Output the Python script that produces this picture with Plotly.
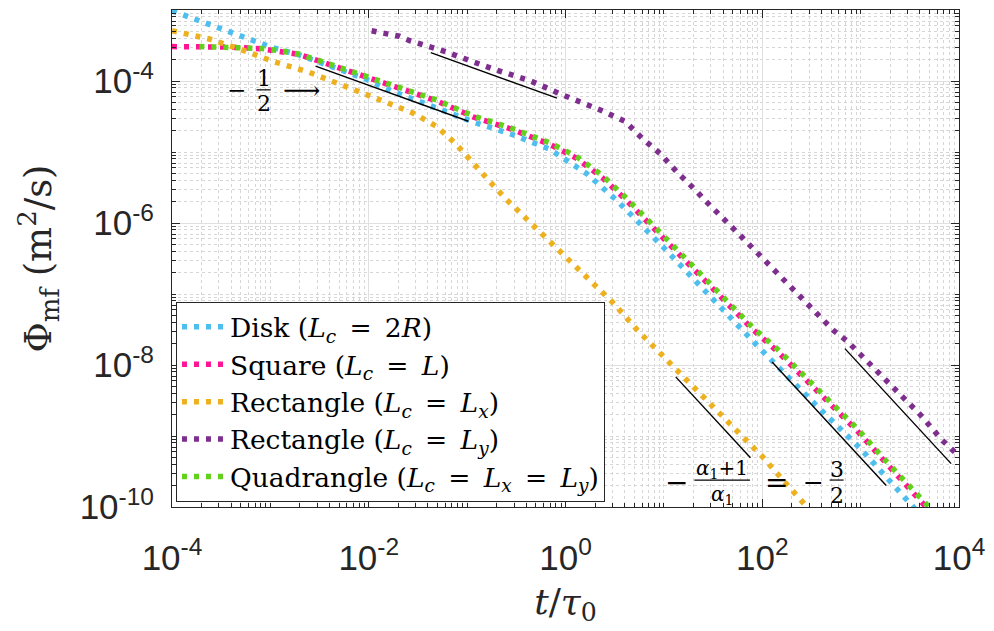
import plotly.graph_objects as go

# ---- series: t/tau0 and flux Phi_mf (m^2/s) ----
t_disk = [1.0e-4, 1.9e-4, 4.17e-4, 7.76e-4, 1.05e-3, 1.95e-3, 3.16e-3, 9.3e-3, 1.7e-2,
          5.1e-2, 0.117, 0.282, 0.687, 1.66, 3.37, 10.0, 31.6, 100.0, 316.0, 1000.0, 3548.0]
phi_disk = [9.77e-4, 7.0e-4, 4.79e-4, 3.47e-4, 2.95e-4, 2.34e-4, 1.82e-4, 1.07e-4, 7.24e-5,
            4.07e-5, 2.63e-5, 1.78e-5, 1.10e-5, 4.9e-6, 2.04e-6, 4.47e-7, 8.3e-8, 1.58e-8,
            3.16e-9, 6.6e-10, 9.5e-11]

t_square = [1.0e-4, 2.0e-4, 4.0e-4, 7.9e-4, 1.26e-3, 1.95e-3, 3.16e-3, 9.3e-3, 2.04e-2,
            4.9e-2, 0.117, 0.284, 0.687, 1.27, 2.36, 4.02, 10.0, 31.6, 81.3, 141.0, 263.0,
            490.0, 912.0, 1698.0, 3090.0, 4786.0]
phi_square = [3.05e-4, 3.05e-4, 3.0e-4, 2.85e-4, 2.63e-4, 2.37e-4, 1.9e-4, 1.15e-4, 7.9e-5,
              5.25e-5, 3.09e-5, 2.09e-5, 1.29e-5, 8.3e-6, 4.37e-6, 2.19e-6, 6.0e-7, 1.17e-7,
              3.1e-8, 1.58e-8, 6.8e-9, 2.82e-9, 1.2e-9, 4.6e-10, 1.9e-10, 9.5e-11]

t_rect_x = [1.0e-4, 2.4e-4, 4.9e-4, 1.05e-3, 2.5e-3, 5.9e-3, 1.38e-2, 2.8e-2, 4.9e-2, 7.6e-2,
            0.112, 0.174, 0.247, 0.5, 1.0, 1.78, 3.02, 5.37, 10.0, 15.8, 29.5, 55.0, 102.0,
            162.0, 269.0, 295.0]
phi_rect_x = [5.1e-4, 3.9e-4, 2.82e-4, 1.9e-4, 1.32e-4, 8.5e-5, 5.25e-5, 3.55e-5, 2.29e-5,
              1.32e-5, 7.1e-6, 3.7e-6, 2.19e-6, 8.5e-7, 3.4e-7, 1.58e-7, 7.6e-8, 3.1e-8,
              1.29e-8, 6.8e-9, 2.88e-9, 1.2e-9, 5.0e-10, 2.4e-10, 1.12e-10, 9.5e-11]

t_rect_y = [1.07e-2, 2.04e-2, 2.6e-2, 5.8e-2, 0.183, 0.443, 0.98, 2.17, 4.02, 5.97, 9.3,
            13.8, 21.4, 25.7, 63.0, 158.0, 525.0, 724.0, 1349.0, 2291.0, 3981.0, 6761.0,
            10000.0]
phi_rect_y = [5.1e-4, 4.27e-4, 3.7e-4, 2.63e-4, 1.48e-4, 1.0e-4, 6.2e-5, 4.0e-5, 2.7e-5,
              1.58e-5, 9.3e-6, 5.1e-6, 2.82e-6, 2.14e-6, 6.2e-7, 1.66e-7, 3.1e-8, 2.19e-8,
              9.3e-9, 4.4e-9, 2.04e-9, 8.7e-10, 5.2e-10]

t_quad = [1.9e-4, 4.0e-4, 7.9e-4, 1.26e-3, 1.95e-3, 3.16e-3, 9.3e-3, 2.04e-2, 4.9e-2, 0.117,
          0.284, 0.687, 1.27, 2.36, 4.02, 10.0, 31.6, 81.3, 141.0, 263.0, 490.0, 912.0,
          1698.0, 3090.0, 5012.0]
phi_quad = [3.05e-4, 3.0e-4, 2.88e-4, 2.66e-4, 2.4e-4, 1.93e-4, 1.16e-4, 8.1e-5, 5.4e-5,
            3.2e-5, 2.16e-5, 1.35e-5, 8.8e-6, 4.7e-6, 2.34e-6, 6.5e-7, 1.26e-7, 3.3e-8,
            1.7e-8, 7.2e-9, 3.0e-9, 1.29e-9, 4.9e-10, 2.04e-10, 9.8e-11]

# power-law guides: (t_start, phi_start, t_end, exponent)
guides = [
    (2.88e-3, 1.62e-4, 0.103, -0.5),
    (4.27e-2, 2.51e-4, 0.82, -0.5),
    (13.2, 6.8e-9, 75.9, -1.5),
    (126.0, 1.1e-8, 1820.0, -1.5),
    (692.0, 1.7e-8, 8318.0, -1.5),
]

x_ticks = [1e-4, 1e-2, 1e0, 1e2, 1e4]
x_ticktext = ["10<sup>-4</sup>", "10<sup>-2</sup>", "10<sup>0</sup>", "10<sup>2</sup>", "10<sup>4</sup>"]
y_ticks = [1e-10, 1e-8, 1e-6, 1e-4]
y_ticktext = ["10<sup>-10</sup>", "10<sup>-8</sup>", "10<sup>-6</sup>", "10<sup>-4</sup>"]

EQ = "\u2002=\u2002"
series = [
    (f"Disk (<i>L<sub>c</sub></i>{EQ}2<i>R</i>)", t_disk, phi_disk, "#4DBEEE"),
    (f"Square (<i>L<sub>c</sub></i>{EQ}<i>L</i>)", t_square, phi_square, "#FF1493"),
    (f"Rectangle (<i>L<sub>c</sub></i>{EQ}<i>L<sub>x</sub></i>)", t_rect_x, phi_rect_x, "#EDB120"),
    (f"Rectangle (<i>L<sub>c</sub></i>{EQ}<i>L<sub>y</sub></i>)", t_rect_y, phi_rect_y, "#7E2F8E"),
    (f"Quadrangle (<i>L<sub>c</sub></i>{EQ}<i>L<sub>x</sub></i>{EQ}<i>L<sub>y</sub></i>)",
     t_quad, phi_quad, "#62D11B"),
]

W, H = 994, 631
ML, MR, MT, MB = 172, 31, 9, 124
PW, PH = W - ML - MR, H - MT - MB
SERIF = "DejaVu Serif"


def px(x):
    return (x - ML) / PW


def py(y):
    return (H - MB - y) / PH


def minor_vals(lo, hi, majors):
    vals = []
    for e in range(lo, hi + 1):
        for k in range(1, 10):
            v = k * 10.0 ** e
            if all(abs(v - m) > m * 1e-6 for m in majors):
                vals.append(v)
    return vals


fig = go.Figure()

for i, (name, t, phi, color) in enumerate(series):
    fig.add_trace(go.Scatter(
        x=t, y=phi, mode="lines", name=name, legendgroup=f"g{i}",
        line=dict(color=color, width=5.5, dash="5px,7px"),
    ))

for (t0, p0, t1, k) in guides:
    fig.add_trace(go.Scatter(
        x=[t0, t1], y=[p0, p0 * (t1 / t0) ** k], mode="lines",
        line=dict(color="black", width=1.4), showlegend=False, hoverinfo="skip",
    ))

axis_color = "#262626"
common = dict(
    type="log", showline=True, linecolor=axis_color, linewidth=1, mirror="allticks",
    ticks="inside", ticklen=8, tickwidth=1, tickcolor=axis_color,
    showgrid=True, gridcolor="#e0e0e0", gridwidth=1, zeroline=False,
    tickfont=dict(family="Liberation Sans", size=35, color=axis_color),
)

fig.update_xaxes(
    **common, range=[-4, 4], tickmode="array", tickvals=x_ticks, ticktext=x_ticktext,
    ticklabelstandoff=20,
    minor=dict(tickmode="array", tickvals=minor_vals(-4, 3, x_ticks), ticks="inside",
               ticklen=4, tickcolor=axis_color, showgrid=True, gridcolor="#d6d6d6",
               griddash="dot", gridwidth=1),
    title=dict(text="<i>t</i>/<i>τ</i><sub>0</sub>", standoff=12,
               font=dict(family=SERIF, size=36, color=axis_color)),
)
fig.update_yaxes(
    **common, range=[-10, -3], tickmode="array", tickvals=y_ticks, ticktext=y_ticktext,
    ticklabelstandoff=10,
    minor=dict(tickmode="array", tickvals=minor_vals(-10, -4, y_ticks) + [1e-3], ticks="inside",
               ticklen=4, tickcolor=axis_color, showgrid=True, gridcolor="#d6d6d6",
               griddash="dot", gridwidth=1),
    title=dict(text="Φ<sub>mf</sub> (m<sup>2</sup>/s)", standoff=16,
               font=dict(family=SERIF, size=37, color=axis_color)),
)

text_items = [
    ("−", 237, 89, 23), ("1", 264, 78, 22), ("2", 264, 103, 22), ("⟶", 302, 89, 26),
    ("−", 679, 482, 28), ("<i>α</i><sub>1</sub>+1", 725, 469, 20),
    ("<i>α</i><sub>1</sub>", 725, 495, 20), ("=", 780, 482, 28), ("−", 817, 482, 25),
    ("3", 840, 469, 22), ("2", 840, 495, 22),
]
for txt, x, y, s in text_items:
    fig.add_annotation(text=txt, x=px(x), y=py(y), xref="paper", yref="paper",
                       showarrow=False, xanchor="center", yanchor="middle",
                       font=dict(family=SERIF, size=s, color="black"))

for x0, x1, y in [(257, 271, 89), (697, 753, 480), (833, 847, 480)]:
    fig.add_shape(type="line", xref="paper", yref="paper", x0=px(x0), x1=px(x1),
                  y0=py(y), y1=py(y), line=dict(color="black", width=1.2))

fig.update_layout(
    width=W, height=H, margin=dict(l=ML, r=MR, t=MT, b=MB),
    paper_bgcolor="white", plot_bgcolor="white",
    legend=dict(x=px(176), y=py(502), xanchor="left", yanchor="bottom",
                bgcolor="white", bordercolor=axis_color, borderwidth=1,
                font=dict(family=SERIF, size=26.5, color="black"),
                tracegroupgap=0, itemwidth=43),
)

fig.write_html("out.html")
